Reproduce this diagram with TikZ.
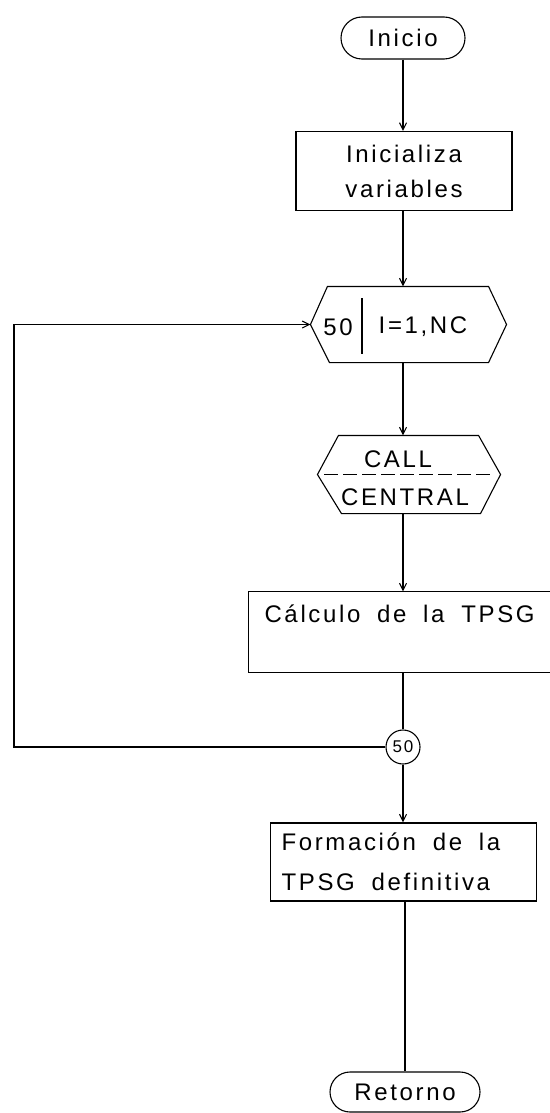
\documentclass[tikz,border=0pt]{standalone}
\usepackage{fontspec}
\setmainfont{Liberation Sans}[LetterSpace=11,WordSpace=1.8]
\usetikzlibrary{arrows.meta,shapes.misc}
\begin{document}
\begin{tikzpicture}[x=1pt,y=-1pt,line width=1.1pt,
  every node/.style={font=\fontsize{24}{35}\selectfont, inner sep=0pt},
  term/.style={rounded rectangle, draw, minimum width=#1, minimum height=42pt},
  box/.style={rectangle, draw, minimum width=#1, minimum height=79pt},
  ghost/.style={rectangle, minimum width=#1},
  arr/.style={-{Straight Barb[length=7pt,width=7pt]}},
  conn/.style={circle, draw, minimum size=34pt, font=\fontsize{17}{17}\selectfont}
]
\useasboundingbox (0,0) rectangle (549,1113);
% terminals and boxes
\node[term=124pt] (inicio) at (403,38) {Inicio};
\node[box=216pt, align=center, font=\fontsize{24}{35}\selectfont] (init) at (404,171) {Inicializa\\variables};
% loop hexagon
\node[ghost=195pt, minimum height=75pt] (loop) at (408.5,324.5) {};
\draw (loop.west) -- ([xshift=17pt]loop.north west) -- ([xshift=-18pt]loop.north east)
  -- (loop.east) -- ([xshift=-18pt]loop.south east) -- ([xshift=19pt]loop.south west) -- cycle;
\node (n50) at (338,327) {50};
\node (inc) at (423,327) {I=1,NC};
\draw (362,298) -- (362,354);
% call hexagon
\node[ghost=182pt, minimum height=77pt] (call) at (409,474.5) {};
\draw (call.west) -- ([xshift=21pt]call.north west) -- ([xshift=-22pt]call.north east)
  -- (call.east) -- ([xshift=-20pt]call.south east) -- ([xshift=24pt]call.south west) -- cycle;
\node (callt) at (398,459) {CALL};
\node (centt) at (405,497) {CENTRAL};
\draw[dash pattern=on 14pt off 5pt] ([xshift=7pt]call.west) -- ([xshift=-7pt]call.east);
% calculo box (cut at right edge)
\node[ghost=300pt, minimum height=80pt] (calc) at (399,632) {};
\draw (calc.north east) -- (calc.north west) -- (calc.south west) -- (calc.south east);
\node[anchor=base west] (calct) at (264,622) {Cálculo de la TPSG};
% connector 50
\node[conn] (c50) at (403,747) {50};
% formacion box
\node[box=266pt, minimum height=78pt] (form) at (403.5,862) {};
\node[anchor=west, align=left, font=\fontsize{24}{40}\selectfont] (formt) at (281,862) {Formación de la\\TPSG definitiva};
% retorno
\node[term=150pt, minimum height=40pt] (ret) at (405,1092) {Retorno};
% connectors
\draw[arr] (inicio.south) -- (inicio.south |- init.north);
\draw[arr] (init.south -| inicio.south) -- (inicio.south |- loop.north);
\draw[arr] (loop.south -| c50) -- (c50 |- call.north);
\draw[arr] (call.south -| c50) -- (c50 |- calc.north);
\draw (calc.south -| c50) -- (c50.north);
\draw[arr] (c50.south) -- (c50 |- form.north);
\draw (form.south -| ret.north) -- (ret.north);
\coordinate (lc) at (14,540);
\draw[arr] (c50.west) -| (lc) |- (loop.west);
\end{tikzpicture}
\end{document}
